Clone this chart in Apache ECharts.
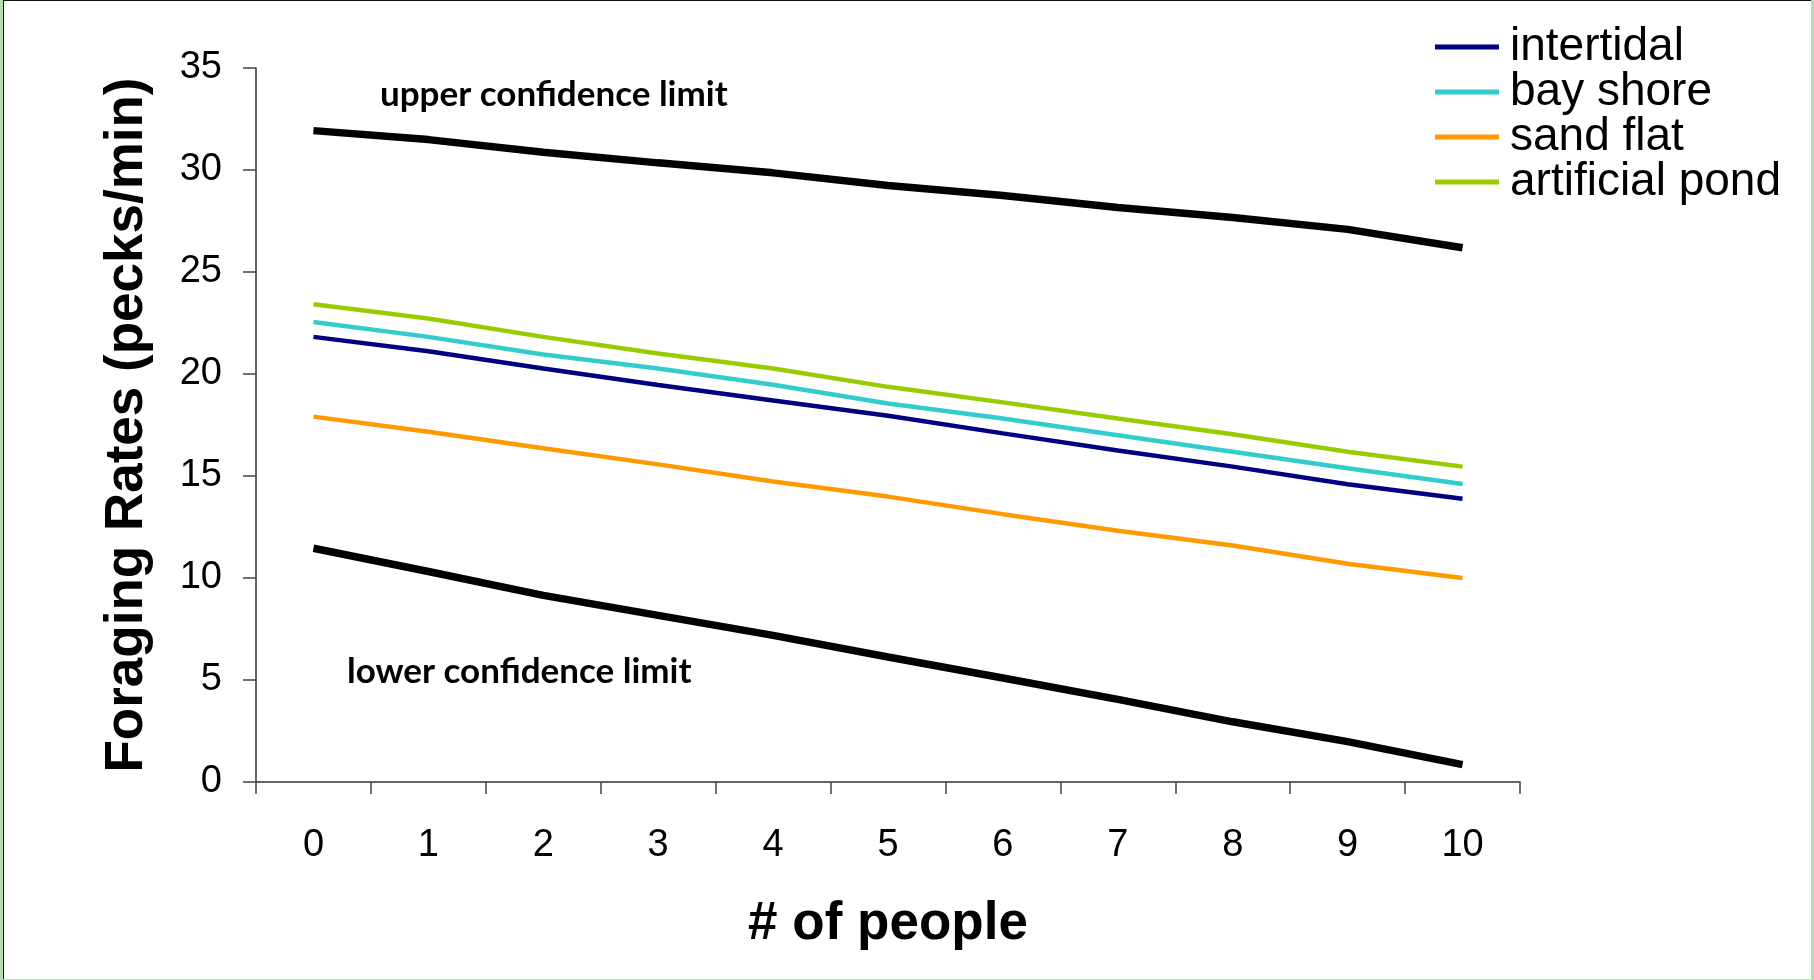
<!DOCTYPE html>
<html>
<head>
<meta charset="utf-8">
<script src="https://cdn.jsdelivr.net/npm/echarts@6/dist/echarts.min.js"></script>
<style>
  html, body { margin: 0; padding: 0; width: 1814px; height: 980px; overflow: hidden; background: #b3deb3; }
  #frame { position: absolute; left: 3px; top: 0; width: 1808px; height: 979px; background: #fff;
           border-left: 1.5px solid #111; border-top: 1.5px solid #111; box-sizing: border-box; }
  #chart { position: absolute; left: 0; top: 0; width: 1814px; height: 980px; }
</style>
</head>
<body>
<div id="frame"></div>
<div id="chart"></div>
<script>
// ---- data ----
const categories = ['0', '1', '2', '3', '4', '5', '6', '7', '8', '9', '10'];
const upperLimit     = [31.93, 31.49, 30.87, 30.35, 29.86, 29.24, 28.75, 28.16, 27.67, 27.09, 26.19];
const lowerLimit     = [11.46, 10.32, 9.15, 8.17, 7.19, 6.13, 5.10, 4.05, 2.95, 1.98, 0.85];
const intertidal     = [21.82, 21.12, 20.27, 19.46, 18.70, 17.95, 17.09, 16.25, 15.46, 14.60, 13.88];
const bayShore       = [22.55, 21.82, 20.96, 20.27, 19.47, 18.55, 17.82, 17.00, 16.19, 15.38, 14.61];
const sandFlat       = [17.91, 17.17, 16.36, 15.57, 14.73, 13.99, 13.13, 12.32, 11.59, 10.70, 10.00];
const artificialPond = [23.42, 22.72, 21.82, 21.00, 20.27, 19.37, 18.61, 17.82, 17.05, 16.19, 15.46];
const legendNames = ['intertidal', 'bay shore', 'sand flat', 'artificial pond'];
const yMin = 0, yMax = 35, yStep = 5;

const chart = echarts.init(document.getElementById('chart'), null, { renderer: 'canvas' });
const sans = '"Liberation Sans", Arial, sans-serif';
const noteFont = 'Lato, "Open Sans", sans-serif';

function colored(name, data, color) {
  return { name, type: 'line', data, symbol: 'none', smooth: false,
           lineStyle: { color, width: 4.5 }, itemStyle: { color }, z: 3 };
}
function limit(name, data) {
  return { name, type: 'line', data, symbol: 'none', smooth: false,
           lineStyle: { color: '#000', width: 7.5 }, itemStyle: { color: '#000' }, z: 4 };
}

chart.setOption({
  backgroundColor: 'transparent',
  animation: false,
  grid: { left: 256, top: 68, width: 1264, height: 714, containLabel: false },
  legend: {
    data: legendNames, orient: 'vertical', left: 1435, top: 24, padding: 0,
    itemWidth: 64, itemHeight: 5, itemGap: -1, icon: 'rect', selectedMode: false,
    textStyle: { fontFamily: sans, fontSize: 46, color: '#000', padding: [0, 0, 0, 6] }
  },
  xAxis: {
    type: 'category', data: categories, boundaryGap: true,
    name: '# of people', nameLocation: 'middle', nameGap: 116,
    nameTextStyle: { fontFamily: sans, fontSize: 53, fontWeight: 'bold', color: '#000' },
    axisLine: { show: true, lineStyle: { color: '#333', width: 1.5 } },
    axisTick: { show: true, alignWithLabel: false, length: 12, lineStyle: { color: '#444', width: 1.5 } },
    axisLabel: { fontFamily: sans, fontSize: 38, color: '#000', margin: 45 },
    splitLine: { show: false }
  },
  yAxis: {
    type: 'value', min: yMin, max: yMax, interval: yStep,
    name: 'Foraging Rates (pecks/min)', nameLocation: 'middle', nameGap: 102,
    nameTextStyle: { fontFamily: sans, fontSize: 53, fontWeight: 'bold', color: '#000' },
    axisLine: { show: true, lineStyle: { color: '#333', width: 1.5 } },
    axisTick: { show: true, length: 13, lineStyle: { color: '#444', width: 1.5 } },
    axisLabel: { fontFamily: sans, fontSize: 38, color: '#000', margin: 34 },
    splitLine: { show: false }
  },
  graphic: [
    { type: 'text', left: 380, top: 77, style: { text: 'upper confidence limit', fontFamily: noteFont, fontWeight: 'bold', fontSize: 35, fill: '#000' } },
    { type: 'text', left: 347, top: 654, style: { text: 'lower confidence limit', fontFamily: noteFont, fontWeight: 'bold', fontSize: 35, fill: '#000' } }
  ],
  series: [
    colored('intertidal', intertidal, '#000080'),
    colored('bay shore', bayShore, '#33CCCC'),
    colored('sand flat', sandFlat, '#FF9900'),
    colored('artificial pond', artificialPond, '#99CC00'),
    limit('upper confidence limit', upperLimit),
    limit('lower confidence limit', lowerLimit)
  ]
});
</script>
</body>
</html>
